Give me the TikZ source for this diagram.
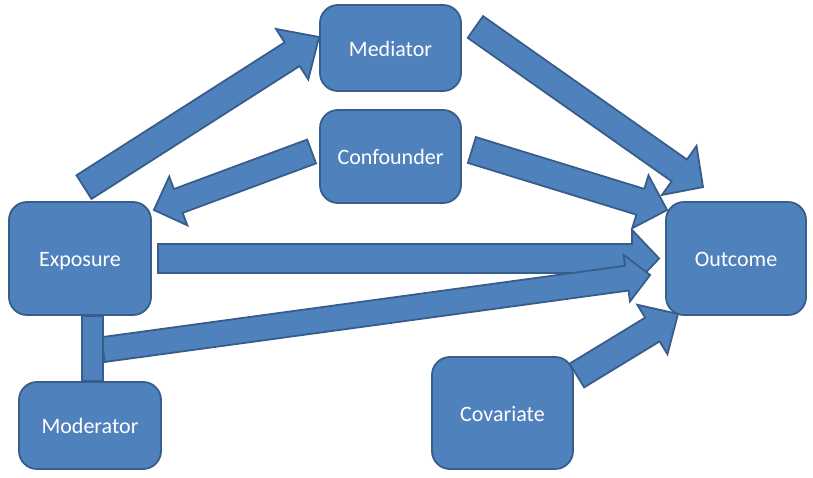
\documentclass[tikz,border=0pt]{standalone}
\usepackage{fontspec}
\setmainfont{Carlito}
\usetikzlibrary{calc}

\definecolor{boxfill}{HTML}{4F81BD}
\definecolor{boxline}{HTML}{385D8A}

\tikzset{
  varbox/.style={draw=boxline,fill=boxfill,line width=1.8pt,rounded corners=18pt,
    text=white,font=\fontsize{22}{26}\selectfont,inner sep=0pt,
    text height=16.5pt,text depth=0pt},
  blockarrow/.style={draw=boxline,fill=boxfill,line width=1.8pt,line join=miter}
}

% block arrow: tail, tip, half shaft width, half head width, head length
\newcommand{\blockarrow}[5]{%
  \coordinate (ba-a) at (#1);
  \coordinate (ba-b) at (#2);
  \coordinate (ba-h) at ($(ba-b)!#5!(ba-a)$);
  \draw[blockarrow] ($(ba-a)!#3!90:(ba-b)$) -- ($(ba-h)!#3!90:(ba-b)$)
    -- ($(ba-h)!#4!90:(ba-b)$) -- (ba-b) -- ($(ba-h)!#4!-90:(ba-b)$)
    -- ($(ba-h)!#3!-90:(ba-b)$) -- ($(ba-a)!#3!-90:(ba-b)$) -- cycle;
}

\begin{document}
\begin{tikzpicture}[x=1pt,y=-1pt]
\useasboundingbox (0,0) rectangle (813,478);

% variables
\node[varbox,minimum width=141pt,minimum height=86pt] (med) at (390.5,48) {Mediator};
\node[varbox,minimum width=141pt,minimum height=93pt] (conf) at (390.5,156.5) {Confounder};
\node[varbox,minimum width=142pt,minimum height=113pt] (exp) at (80,258.5) {Exposure};
\node[varbox,minimum width=140pt,minimum height=113pt] (out) at (736,258.5) {Outcome};
\node[varbox,minimum width=142pt,minimum height=87pt] (mod) at (90,425.5) {Moderator};
\node[varbox,minimum width=141pt,minimum height=112pt] (cov) at (502.5,413) {Covariate};

% paths
\blockarrow{$(exp.north)+(4,-14)$}{$(med.west)+(0,-11)$}{14pt}{30pt}{32pt}
\blockarrow{$(conf.west)+(-7.5,-5)$}{$(exp.east)+(2,-48.5)$}{12.7pt}{26pt}{26pt}
\blockarrow{$(exp.east)+(6,0)$}{$(out.west)+(-6,0)$}{14.5pt}{28.5pt}{27pt}
\blockarrow{$(med.east)+(13.5,-21)$}{$(out.north)+(-33,-14)$}{13.3pt}{30pt}{29pt}
\blockarrow{$(conf.east)+(10,-6.5)$}{$(out.west)+(2,-48.5)$}{13.5pt}{27.7pt}{28pt}
\blockarrow{$(mod.north)+(13,-31.5)$}{$(out.west)+(-15,16.5)$}{12.5pt}{23.5pt}{23.5pt}
\draw[blockarrow] ($(exp.south)+(2,0)$) rectangle ($(mod.north)+(13,0)$);
\blockarrow{$(cov.east)+(3,-37.5)$}{$(out.south)+(-58,-2)$}{13.9pt}{29pt}{30pt}
\end{tikzpicture}
\end{document}
